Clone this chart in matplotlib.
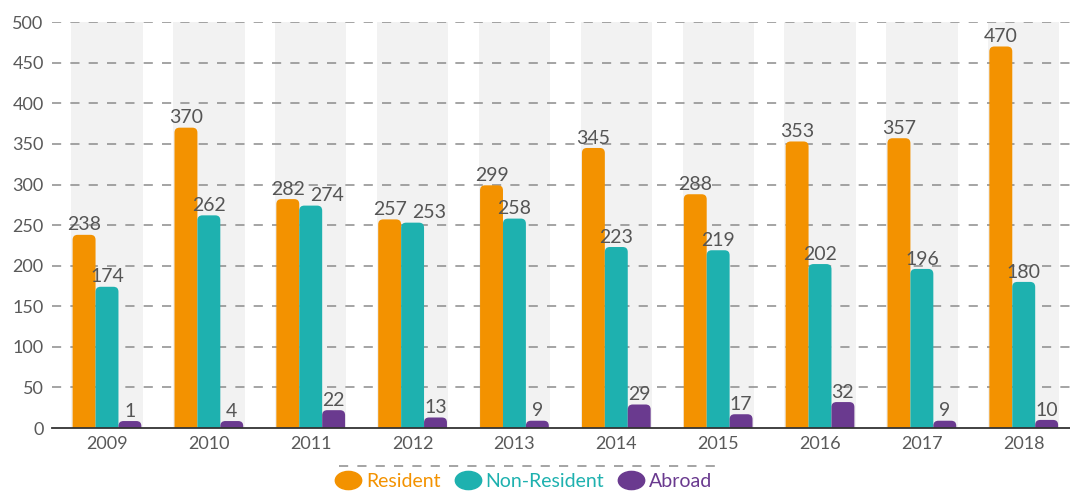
import numpy as np
import matplotlib
matplotlib.use("Agg")
from matplotlib import pyplot as plt
from matplotlib.patches import FancyBboxPatch
from matplotlib.lines import Line2D
from matplotlib.path import Path
from matplotlib.transforms import Affine2D

years = ["2009", "2010", "2011", "2012", "2013", "2014", "2015", "2016", "2017", "2018"]
resident = [238, 370, 282, 257, 299, 345, 288, 353, 357, 470]
non_resident = [174, 262, 274, 253, 258, 223, 219, 202, 196, 180]
abroad = [1, 4, 22, 13, 9, 29, 17, 32, 9, 10]

series = [
    ("Resident", resident, "#F39200"),
    ("Non-Resident", non_resident, "#1EB1AF"),
    ("Abroad", abroad, "#6A3A8F"),
]

plt.rcParams["font.family"] = ["Lato", "DejaVu Sans"]
text_col = "#595959"

fig = plt.figure(figsize=(10.7, 4.92), dpi=100)
ax = fig.add_axes([0.0486, 0.130, 0.951, 0.825])

x = np.arange(len(years))
ymax = 500
ax.set_xlim(-0.54, 9.45)
ax.set_ylim(0, ymax)

# grey band behind each year
ax.bar(x, ymax, width=0.7, color="#F2F2F2", zorder=0)

# dashed grid
for v in range(50, ymax + 1, 50):
    ax.axhline(v, color="#8C8C8C", lw=1.1, dashes=(6, 6), zorder=1)

w = 0.225
# rounded-top bars: radius in x units, aspect converts to y units
ax_w_px = fig.get_figwidth() * fig.dpi * 0.951
ax_h_px = fig.get_figheight() * fig.dpi * 0.825
x_per_px = (9.45 + 0.54) / ax_w_px
y_per_px = ymax / ax_h_px
aspect = y_per_px / x_per_px
r = 5 * x_per_px
min_h = 7 * y_per_px  # rounded cap keeps tiny bars visible

for k, (name, vals, col) in enumerate(series):
    xs = x + (k - 1) * w
    for i, (xi, v) in enumerate(zip(xs, vals)):
        top = max(v, min_h)
        p = FancyBboxPatch((xi - w / 2, -10 * y_per_px), w, top + 10 * y_per_px,
                           boxstyle=f"round,pad=0,rounding_size={r}",
                           mutation_aspect=aspect, fc=col, ec="none", zorder=2)
        ax.add_patch(p)
        # nudge the non-resident label right when it would collide with the resident one
        dx = 0
        if k == 1 and abs(resident[i] - v) < 30:
            dx = 12
        ax.annotate(str(v), (xi, top), xytext=(dx, 1), textcoords="offset points",
                    ha="center", va="bottom", fontsize=14, color="#555555", zorder=3)

ax.set_xticks(x)
ax.set_xticklabels(years)
ax.set_yticks(range(0, ymax + 1, 50))
ax.tick_params(axis="both", length=0, labelsize=13, labelcolor=text_col)
ax.tick_params(axis="x", pad=6)
ax.tick_params(axis="y", pad=6)
for s in ["top", "right", "left"]:
    ax.spines[s].set_visible(False)
ax.spines["bottom"].set_color("#333333")
ax.spines["bottom"].set_linewidth(1.3)
ax.spines["bottom"].set_zorder(4)

# legend with elliptical markers
ell = Path.unit_circle().transformed(Affine2D().scale(1.45, 1.0))
handles = [Line2D([], [], ls="none", marker=ell, markersize=19, color=c, mec=c)
           for _, _, c in series]
leg = fig.legend(handles, [s[0] for s in series], loc="center",
                 bbox_to_anchor=(0.49, 0.022), ncol=3, frameon=False,
                 fontsize=14, handletextpad=0.3, columnspacing=0.8,
                 handlelength=1.2)
for t, (_, _, c) in zip(leg.get_texts(), series):
    t.set_color(c)

fig.add_artist(Line2D([0.317, 0.668], [0.052, 0.052], transform=fig.transFigure,
                      color="#8C8C8C", lw=1.1, dashes=(6, 6)))

fig.savefig("out.png", dpi=100)
